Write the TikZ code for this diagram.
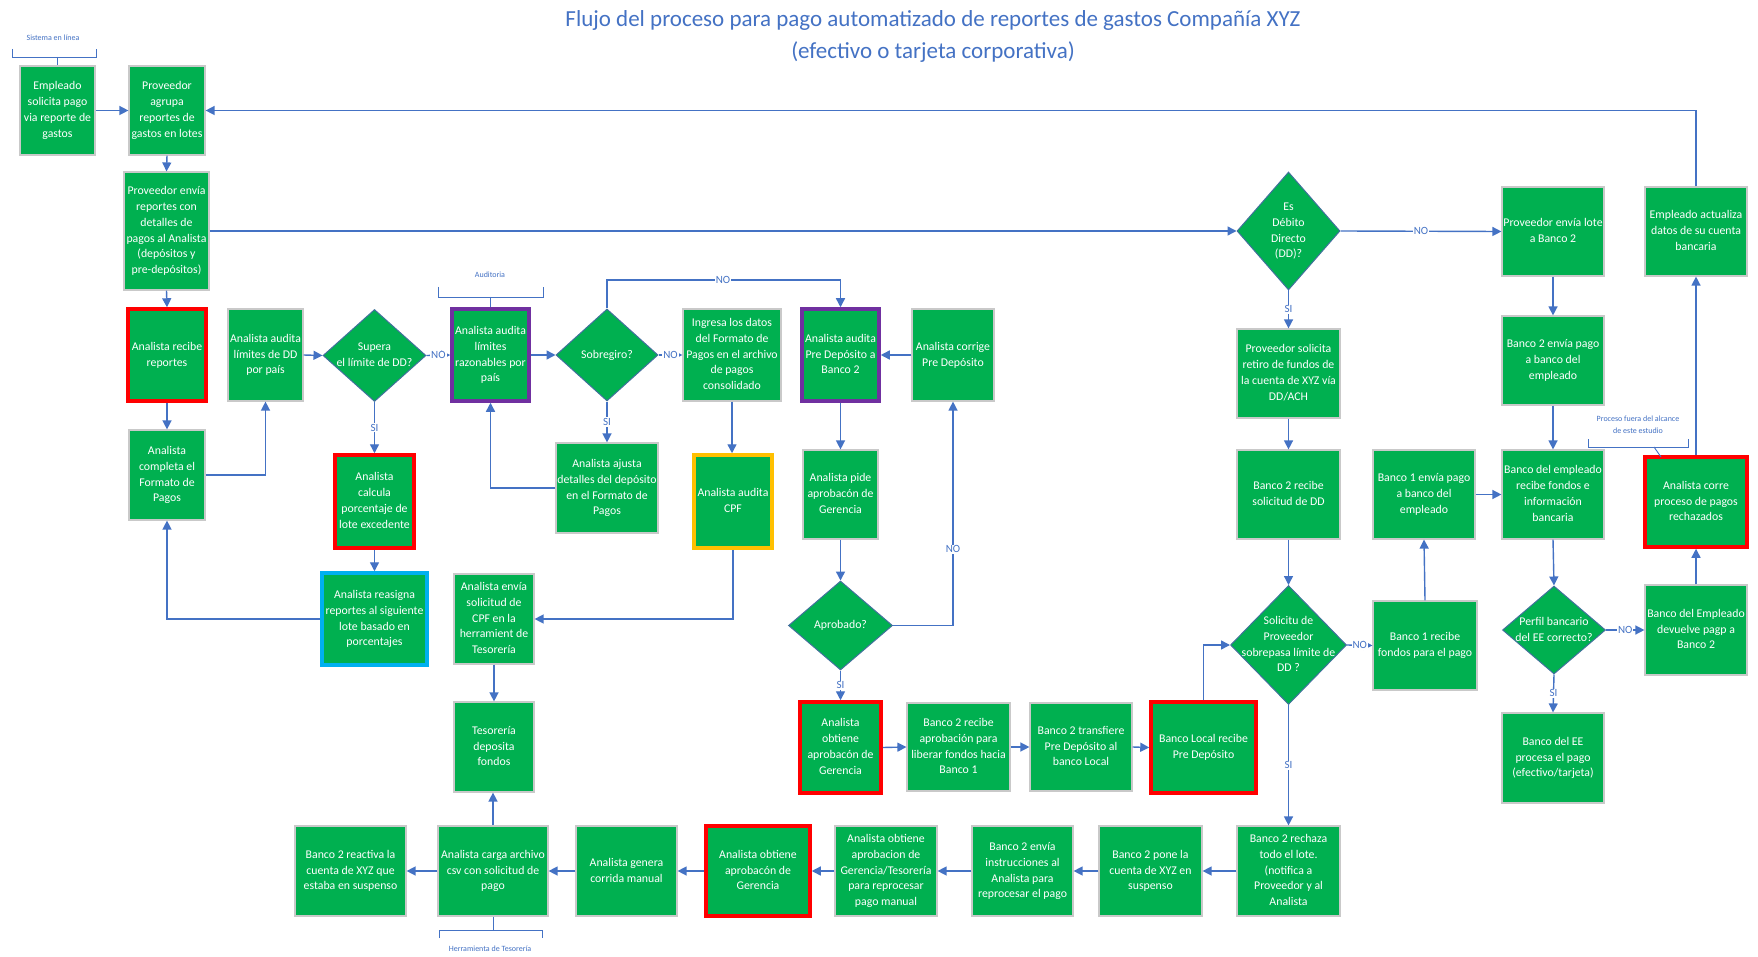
\documentclass[tikz,border=0pt]{standalone}
\usepackage{fontspec}
\setmainfont{Carlito}
\usetikzlibrary{arrows.meta,shapes.geometric}

\definecolor{boxgreen}{HTML}{00B050}
\definecolor{linkblue}{HTML}{4472C4}
\definecolor{edgegray}{HTML}{C9C9C9}
\definecolor{diaedge}{HTML}{41719C}
\definecolor{hired}{HTML}{FF0000}
\definecolor{hipurple}{HTML}{7030A0}
\definecolor{hicyan}{HTML}{00B0F0}
\definecolor{higold}{HTML}{FFC000}

\newcommand\fBox{\fontsize{11.8}{15.8}\selectfont}
\newcommand\fLbl{\fontsize{11}{12}\selectfont}
\newcommand\fNote{\fontsize{8}{12.5}\selectfont}
\newcommand\fTitle{\fontsize{23}{32}\selectfont}
% centred multi-line text that takes no room, so the shape size is set by minimum width/height
\newcommand\ctrtxt[1]{\hbox to 0pt{\hss\vbox to 0pt{\vss\hbox{\begin{tabular}{@{}c@{}}#1\end{tabular}}\vss}\hss}}

\tikzset{
  sz/.style 2 args={minimum width=#1pt, minimum height=#2pt},
  box/.style={rectangle, draw=edgegray, line width=1.2pt, fill=boxgreen, text=white, inner sep=0pt, font=\fBox},
  redbox/.style={box, draw=hired, line width=3.5pt},
  purplebox/.style={box, draw=hipurple, line width=3.5pt},
  cyanbox/.style={box, draw=hicyan, line width=3.5pt},
  goldbox/.style={box, draw=higold, line width=3.5pt},
  dia/.style={diamond, draw=diaedge, line width=1pt, fill=boxgreen, text=white, inner sep=0pt, font=\fBox},
  arr/.style={draw=linkblue, line width=1.4pt, -{Triangle[length=9pt,width=9pt]}},
  lbl/.style={fill=white, text=linkblue, font=\fLbl, inner sep=1pt},
  brk/.style={draw=linkblue, line width=0.9pt},
  note/.style={text=linkblue, font=\fNote, align=center, inner sep=0pt}
}

\begin{document}
\begin{tikzpicture}[x=1pt,y=-1pt]
\useasboundingbox (0,0) rectangle (1758,957);
\fill[white] (0,0) rectangle (1758,957);

% title
\node[font=\fTitle, text=linkblue, align=center] (title) at (933,36)
  {Flujo del proceso para pago automatizado de reportes de gastos Compañía XYZ\\(efectivo o tarjeta corporativa)};

% ---- left block: intake and audit ----
\node[box, sz={75}{89}] (emp) at (57.5,110.5) {\ctrtxt{Empleado\\solicita pago\\via reporte de\\gastos}};
\node[box, sz={76}{89}] (agr) at (167,110.5) {\ctrtxt{Proveedor\\agrupa\\reportes de\\gastos en lotes}};
\node[box, sz={85}{118}] (env) at (166.5,231) {\ctrtxt{Proveedor envía\\reportes con\\detalles de\\pagos al Analista\\(depósitos y\\pre-depósitos)}};
\node[redbox, sz={78}{92}] (rec) at (167,355) {\ctrtxt{Analista recibe\\reportes}};
\node[box, sz={75}{92}] (audDD) at (265.5,355) {\ctrtxt{Analista audita\\límites de DD\\por país}};
\node[dia, sz={103}{92}] (supera) at (374.5,355.5) {\ctrtxt{Supera\\el límite de DD?}};
\node[purplebox, sz={77}{92}] (audRaz) at (490.5,355) {\ctrtxt{Analista audita\\límites\\razonables por\\país}};
\node[dia, sz={102}{92}] (sobre) at (607,355) {\ctrtxt{Sobregiro?}};
\node[box, sz={98}{92}] (ingresa) at (732,355) {\ctrtxt{Ingresa los datos\\del Formato de\\Pagos en el archivo\\de pagos\\consolidado}};
\node[purplebox, sz={77}{92}] (audPre) at (840.5,355) {\ctrtxt{Analista audita\\Pre Depósito a\\Banco 2}};
\node[box, sz={82}{92}] (corrige) at (953,355) {\ctrtxt{Analista corrige\\Pre Depósito}};

\node[box, sz={76}{90}] (completa) at (167,475) {\ctrtxt{Analista\\completa el\\Formato de\\Pagos}};
\node[redbox, sz={79}{93}] (calcula) at (374.5,501.5) {\ctrtxt{Analista\\calcula\\porcentaje de\\lote excedente}};
\node[box, sz={102}{90}] (ajusta) at (607,488) {\ctrtxt{Analista ajusta\\detalles del depósito\\en el Formato de\\Pagos}};
\node[goldbox, sz={78}{93}] (audCPF) at (733,501.5) {\ctrtxt{Analista audita\\CPF}};
\node[box, sz={75}{89}] (pide) at (840.5,494.5) {\ctrtxt{Analista pide\\aprobacón de\\Gerencia}};
\node[dia, sz={104}{89}] (aprob) at (840.5,625.5) {\ctrtxt{Aprobado?}};

\node[cyanbox, sz={105}{92}] (reasigna) at (374.5,619) {\ctrtxt{Analista reasigna\\reportes al siguiente\\lote basado en\\porcentajes}};
\node[box, sz={80}{90}] (enviaCPF) at (494,619) {\ctrtxt{Analista envía\\solicitud de\\CPF en la\\herramient de\\Tesorería}};
\node[box, sz={80}{90}] (teso) at (494,747) {\ctrtxt{Tesorería\\deposita\\fondos}};

\node[redbox, sz={81}{91}] (obtA) at (840.5,747.5) {\ctrtxt{Analista\\obtiene\\aprobacón de\\Gerencia}};
\node[box, sz={103}{88}] (b2rA) at (958.5,747) {\ctrtxt{Banco 2 recibe\\aprobación para\\liberar fondos hacia\\Banco 1}};
\node[box, sz={102}{88}] (b2tr) at (1081,747) {\ctrtxt{Banco 2 transfiere\\Pre Depósito al\\banco Local}};
\node[redbox, sz={105}{91}] (bLoc) at (1203.5,747.5) {\ctrtxt{Banco Local recibe\\Pre Depósito}};

% ---- right block: bank side ----
\node[dia, sz={103}{118}] (esDD) at (1288.5,231) {\ctrtxt{Es\\Débito\\Directo\\(DD)?}};
\node[box, sz={103}{89}] (provSol) at (1288.5,373.5) {\ctrtxt{Proveedor solicita\\retiro de fundos de\\la cuenta de XYZ vía\\DD/ACH}};
\node[box, sz={103}{89}] (b2rDD) at (1288.5,494.5) {\ctrtxt{Banco 2 recibe\\solicitud de DD}};
\node[dia, sz={116}{119}] (solic) at (1288.5,645) {\ctrtxt{Solicitu de\\Proveedor\\sobrepasa límite de\\DD ?}};
\node[box, sz={104}{89}] (b1rec) at (1425,645.5) {\ctrtxt{Banco 1 recibe\\fondos para el pago}};
\node[box, sz={102}{89}] (b1env) at (1424,494.5) {\ctrtxt{Banco 1 envía pago\\a banco del\\empleado}};
\node[box, sz={102}{89}] (envLote) at (1553,231.5) {\ctrtxt{Proveedor envía lote\\a Banco 2}};
\node[box, sz={102}{89}] (b2envP) at (1553,360.5) {\ctrtxt{Banco 2 envía pago\\a banco del\\empleado}};
\node[box, sz={102}{89}] (bEmp) at (1553,494.5) {\ctrtxt{Banco del empleado\\recibe fondos e\\información\\bancaria}};
\node[dia, sz={103}{88}] (perfil) at (1554,630) {\ctrtxt{Perfil bancario\\del EE correcto?}};
\node[box, sz={102}{90}] (bEE) at (1553,758) {\ctrtxt{Banco del EE\\procesa el pago\\(efectivo/tarjeta)}};
\node[box, sz={102}{89}] (actualiza) at (1696,231.5) {\ctrtxt{Empleado actualiza\\datos de su cuenta\\bancaria}};
\node[redbox, sz={102}{90}] (corre) at (1696,502) {\ctrtxt{Analista corre\\proceso de pagos\\rechazados}};
\node[box, sz={102}{90}] (devuelve) at (1696,630) {\ctrtxt{Banco del Empleado\\devuelve pagp a\\Banco 2}};

% ---- bottom row: manual reprocessing ----
\node[box, sz={103}{90}] (rechaza) at (1288.5,871) {\ctrtxt{Banco 2 rechaza\\todo el lote.\\(notifica a\\Proveedor y al\\Analista}};
\node[box, sz={103}{90}] (pone) at (1150.5,871) {\ctrtxt{Banco 2 pone la\\cuenta de XYZ en\\suspenso}};
\node[box, sz={101}{90}] (envInstr) at (1022.5,871) {\ctrtxt{Banco 2 envía\\instrucciones al\\Analista para\\reprocesar el pago}};
\node[box, sz={102}{90}] (obtGT) at (886,871) {\ctrtxt{Analista obtiene\\aprobacion de\\Gerencia/Tesorería\\para reprocesar\\pago manual}};
\node[redbox, sz={104}{90}] (obtG) at (758,871) {\ctrtxt{Analista obtiene\\aprobacón de\\Gerencia}};
\node[box, sz={101}{90}] (genera) at (626.5,871) {\ctrtxt{Analista genera\\corrida manual}};
\node[box, sz={110}{90}] (carga) at (493,871) {\ctrtxt{Analista carga archivo\\csv con solicitud de\\pago}};
\node[box, sz={111}{90}] (reactiva) at (350.5,871) {\ctrtxt{Banco 2 reactiva la\\cuenta de XYZ que\\estaba en suspenso}};

% ---- brackets with their notes ----
\node[note] (nSis) at (53,38) {Sistema en línea};
\draw[brk] (12,49) -- (12,57) -- (96,57) -- (96,49);
\draw[brk] (emp.north |- 0,57) -- (emp.north);

\node[note] (nAud) at (490,275) {Auditoria};
\draw[brk] (438,287) -- (438,297) -- (543,297) -- (543,287);
\draw[brk] (audRaz.north |- 0,297) -- (audRaz.north);

\node[note] (nHer) at (490,949) {Herramienta de Tesorería};
\draw[brk] (439,938) -- (439,930) -- (542,930) -- (542,938);
\draw[brk] (carga.south) -- (carga.south |- 0,930);

\node[note] (nFuera) at (1638,425) {Proceso fuera del alcance\\de este estudio};
\draw[brk] (1588,439) -- (1588,447) -- (1688,447) -- (1688,439);
\draw[brk] (1654,447) -- (1661,457);

% ---- connectors ----
\draw[arr] (emp.east) -- (agr.west);
\draw[arr] (agr.south) -- (env.north);
\draw[arr] (env.south) -- (rec.north);
\draw[arr] (rec.south) -- (completa.north);
\draw[arr] (completa.east) -| (audDD.south);
\draw[arr] (audDD.east) -- (supera.west);
\draw[arr] (supera.east) -- node[lbl] {NO} (audRaz.west);
\draw[arr] (supera.south) -- node[lbl] {SI} (calcula.north);
\draw[arr] (calcula.south) -- (reasigna.north);
\draw[arr] (reasigna.west) -| (completa.south);
\draw[arr] (audRaz.east) -- (sobre.west);
\draw[arr] (sobre.east) -- node[lbl] {NO} (ingresa.west);
\draw[arr] (sobre.south) -- node[lbl] {SI} (ajusta.north);
\draw[arr] (ajusta.west) -| (audRaz.south);
\coordinate (loopNO) at (723,280);
\draw[arr] (sobre.north) |- (loopNO) -| (audPre.north);
\node[lbl] (tNO) at (loopNO) {NO};
\draw[arr] (ingresa.south) -- (ingresa.south |- audCPF.north);
\draw[arr] (audCPF.south) |- (enviaCPF.east);
\draw[arr] (corrige.west) -- (audPre.east);
\draw[arr] (audPre.south) -- (pide.north);
\draw[arr] (pide.south) -- (aprob.north);
\draw[arr] (aprob.east) -| node[lbl, pos=0.67] {NO} (corrige.south);
\draw[arr] (aprob.south) -- node[lbl] {SI} (obtA.north);
\draw[arr] (enviaCPF.south) -- (teso.north);
\draw[arr] (obtA.east) -- (b2rA.west);
\draw[arr] (b2rA.east) -- (b2tr.west);
\draw[arr] (b2tr.east) -- (bLoc.west);
\draw[arr] (bLoc.north) |- (solic.west);

\draw[arr] (env.east) -- (esDD.west);
\draw[arr] (esDD.east) -- node[lbl] {NO} (envLote.west);
\draw[arr] (esDD.south) -- node[lbl] {SI} (provSol.north);
\draw[arr] (provSol.south) -- (b2rDD.north);
\draw[arr] (b2rDD.south) -- (solic.north);
\draw[arr] (solic.east) -- node[lbl] {NO} (b1rec.west);
\draw[arr] (solic.south) -- node[lbl] {SI} (rechaza.north);
\draw[arr] (b1rec.north) -- (b1env.south);
\draw[arr] (b1env.east) -- (bEmp.west);
\draw[arr] (envLote.south) -- (b2envP.north);
\draw[arr] (b2envP.south) -- (bEmp.north);
\draw[arr] (bEmp.south) -- (perfil.north);
\draw[arr] (perfil.east) -- node[lbl] {NO} (devuelve.west);
\draw[arr] (perfil.south) -- node[lbl] {SI} (bEE.north);
\draw[arr] (devuelve.north) -- (corre.south);
\draw[arr] (corre.north) -- (actualiza.south);
\draw[arr] (actualiza.north) |- (agr.east);

\draw[arr] (rechaza.west) -- (pone.east);
\draw[arr] (pone.west) -- (envInstr.east);
\draw[arr] (envInstr.west) -- (obtGT.east);
\draw[arr] (obtGT.west) -- (obtG.east);
\draw[arr] (obtG.west) -- (genera.east);
\draw[arr] (genera.west) -- (carga.east);
\draw[arr] (carga.west) -- (reactiva.east);
\draw[arr] (carga.north) -- (carga.north |- teso.south);
\end{tikzpicture}
\end{document}
